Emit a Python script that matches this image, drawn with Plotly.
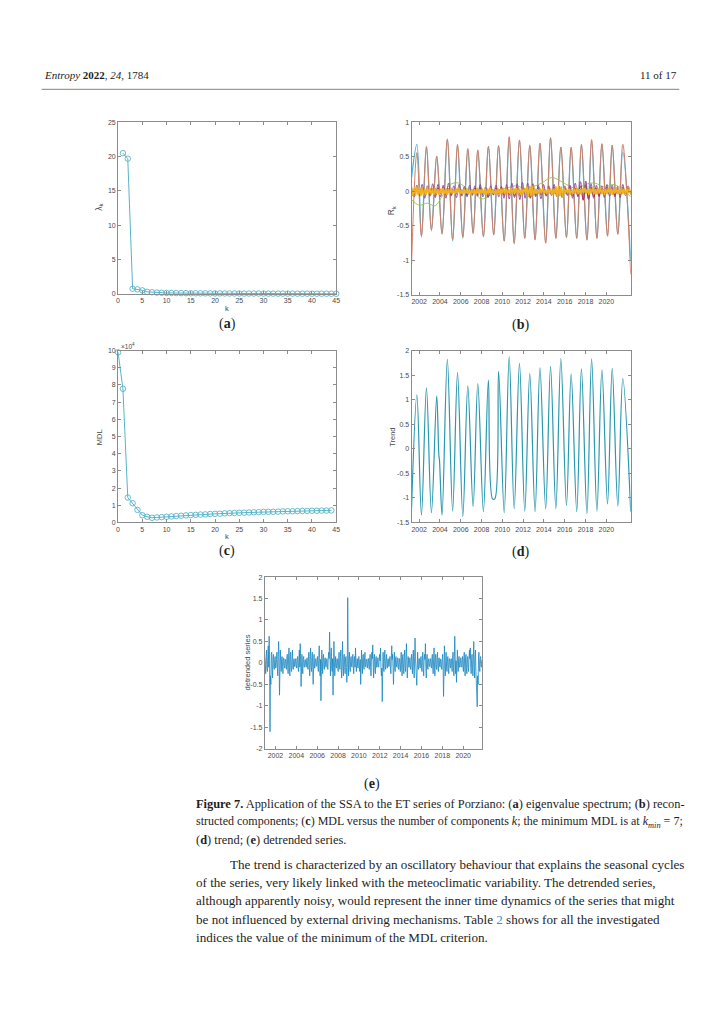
import numpy as np
import plotly.graph_objects as go

W, H = 725, 1024          # page size in the reference
OFF = 8                   # browser body margin compensation
FW, FH = W - 2 * OFF, H - 2 * OFF

# ---------------- data ----------------
# (a) eigenvalue spectrum
eig_vals = [20.5, 19.7, 0.77, 0.68, 0.53, 0.32, 0.26, 0.21, 0.18, 0.16,
            0.15, 0.14, 0.13, 0.12, 0.11, 0.11, 0.10, 0.10, 0.09, 0.09,
            0.09, 0.08, 0.08, 0.08, 0.08, 0.07, 0.07, 0.07, 0.07, 0.07,
            0.06, 0.06, 0.06, 0.06, 0.06, 0.06, 0.05, 0.05, 0.05, 0.05,
            0.05, 0.05, 0.05, 0.04, 0.04]
eig_k = list(range(1, len(eig_vals) + 1))

# (c) MDL versus k
mdl_vals = [99000, 77800, 14500, 11200, 7300, 4200, 3300, 2700, 2900, 3100,
            3300, 3500, 3700, 3900, 4100, 4300, 4400, 4600, 4700, 4900,
            5000, 5100, 5300, 5400, 5500, 5600, 5700, 5800, 5900, 6000,
            6100, 6200, 6200, 6300, 6400, 6500, 6500, 6600, 6700, 6700,
            6800, 6800, 6900, 6900, 7000]
mdl_k = list(range(0, len(mdl_vals)))

# (b) reconstructed components: seasonal extremes (decimal years)
rc_peak_years = [2001.78, 2002.70, 2003.69, 2004.71, 2005.69, 2006.68, 2007.64,
                 2008.66, 2009.64, 2010.66, 2011.65, 2012.64, 2013.62, 2014.64,
                 2015.63, 2016.62, 2017.61, 2018.59, 2019.58, 2020.57, 2021.59]
rc_trough_years = [2002.22, 2003.18, 2004.20, 2005.22, 2006.20, 2007.19, 2008.18,
                   2009.17, 2010.18, 2011.14, 2012.16, 2013.15, 2014.17, 2015.15,
                   2016.17, 2017.16, 2018.14, 2019.10, 2020.12, 2021.11]
rc_edge_years = [2001.27, 2022.35]
rc_orange_peaks = [0.56, 0.65, 0.51, 0.75, 0.68, 0.62, 0.60, 0.65, 0.66, 0.79, 0.74,
                   0.66, 0.70, 0.77, 0.64, 0.64, 0.68, 0.75, 0.69, 0.67, 0.68]
rc_orange_troughs = [-0.64, -0.55, -0.61, -0.70, -0.66, -0.61, -0.65, -0.63, -0.72, -0.75,
                     -0.68, -0.70, -0.75, -0.68, -0.67, -0.68, -0.70, -0.68, -0.65, -0.62]
rc_orange_edges = [-1.05, -1.20]
rc_cyan_peaks = [0.68, 0.63, 0.50, 0.76, 0.66, 0.60, 0.58, 0.65, 0.66, 0.77, 0.74,
                 0.67, 0.68, 0.78, 0.64, 0.62, 0.67, 0.73, 0.68, 0.66, 0.57]
rc_cyan_troughs = [-0.66, -0.57, -0.62, -0.72, -0.68, -0.60, -0.66, -0.63, -0.72, -0.76,
                   -0.68, -0.70, -0.74, -0.68, -0.66, -0.68, -0.71, -0.68, -0.64, -0.62]
rc_cyan_edges = [0.20, -1.00]

rc_purple = [0.05, -0.08, 0.09, -0.06, 0.10, -0.10, 0.08, -0.07, 0.11, -0.09, 0.10, -0.08,
             0.09, -0.10, 0.12, -0.06, 0.08, -0.09, 0.10, -0.07, 0.07, -0.08, 0.09, -0.06,
             0.08, -0.07, 0.10, -0.08, 0.06, -0.09, 0.08, -0.05, 0.09, -0.08, 0.07, -0.10,
             0.10, -0.11, 0.12, -0.09, 0.11, -0.12, 0.13, -0.10, 0.12, -0.10, 0.11, -0.08,
             0.09, -0.11, 0.10, -0.07, 0.08, -0.06, 0.10, -0.08, 0.07, -0.09, 0.08, -0.06,
             0.09, -0.10, 0.12, -0.08, 0.14, -0.13, 0.15, -0.12, 0.11, -0.10, 0.09, -0.08,
             0.08, -0.09, 0.10, -0.07, 0.09, -0.08, 0.07, -0.09, 0.10, -0.06, 0.08, -0.05]
rc_red = [0.03, -0.05, 0.04, -0.06, 0.05, -0.04, 0.03, -0.05, 0.04, -0.06, 0.05, -0.03,
          0.06, -0.05, 0.04, -0.06, 0.03, -0.04, 0.05, -0.05, 0.04, -0.06, 0.03, -0.04,
          0.05, -0.05, 0.06, -0.04, 0.03, -0.08, 0.04, -0.05, 0.05, -0.04, 0.06, -0.06,
          0.04, -0.05, 0.03, -0.07, 0.06, -0.06, 0.05, -0.04, 0.04, -0.09, 0.05, -0.05,
          0.06, -0.05, 0.04, -0.06, 0.05, -0.04, 0.06, -0.05, 0.04, -0.06, 0.05, -0.04,
          0.06, -0.07, 0.05, -0.06, 0.08, -0.12, 0.09, -0.10, 0.06, -0.08, 0.05, -0.06,
          0.04, -0.05, 0.06, -0.04, 0.05, -0.06, 0.04, -0.05, 0.06, -0.04, 0.05, -0.03]
rc_blue = [0.02, -0.03, 0.03, -0.02, 0.03, -0.04, 0.02, -0.03, 0.02, -0.03, 0.03, -0.02,
           0.03, -0.02, 0.02, -0.03, 0.02, -0.03, 0.04, -0.02, 0.05, -0.06, 0.05, -0.04,
           0.03, -0.04, 0.06, -0.05, 0.02, -0.03, 0.02, -0.04, 0.03, -0.02, 0.03, -0.03,
           0.02, -0.03, 0.02, -0.02, 0.03, -0.04, 0.03, -0.03, 0.06, -0.07, 0.05, -0.06,
           0.04, -0.03, 0.02, -0.03, 0.03, -0.02, 0.03, -0.04, 0.05, -0.05, 0.04, -0.03,
           0.02, -0.03, 0.03, -0.02, 0.03, -0.04, 0.05, -0.05, 0.04, -0.03, 0.02, -0.03,
           0.03, -0.02, 0.03, -0.04, 0.02, -0.03, 0.02, -0.03, 0.04, -0.03, 0.03, -0.02]
rc_yellow = [0.06, -0.07, 0.05, -0.06, 0.07, -0.05, 0.06, -0.07,
             0.05, -0.06, 0.04, -0.05, 0.06, -0.04, 0.05, -0.05,
             0.04, -0.05, 0.05, -0.04, 0.03, -0.05, 0.04, -0.04,
             0.05, -0.04, 0.04, -0.05, 0.03, -0.04, 0.05, -0.03,
             0.03, -0.04, 0.04, -0.03, 0.05, -0.04, 0.03, -0.04,
             0.04, -0.03, 0.03, -0.04, 0.04, -0.05, 0.03, -0.03,
             0.03, -0.04, 0.05, -0.04, 0.03, -0.03, 0.04, -0.05,
             0.04, -0.05, 0.04, -0.03, 0.05, -0.04, 0.03, -0.04,
             0.03, -0.04, 0.04, -0.05, 0.04, -0.03, 0.05, -0.04,
             0.04, -0.03, 0.03, -0.04, 0.05, -0.04, 0.04, -0.03,
             0.05, -0.04, 0.04, -0.05, 0.04, -0.04, 0.05, -0.04,
             0.07, -0.08, 0.08, -0.07, 0.08, -0.06, 0.04, -0.04,
             0.03, -0.04, 0.04, -0.03, 0.05, -0.04, 0.03, -0.04,
             0.04, -0.03, 0.04, -0.05, 0.04, -0.04, 0.07, -0.08,
             0.08, -0.07, 0.07, -0.08, 0.05, -0.04, 0.04, -0.03,
             0.04, -0.05, 0.03, -0.04, 0.04, -0.03, 0.05, -0.04,
             0.03, -0.04, 0.04, -0.03, 0.05, -0.04, 0.04, -0.05,
             0.04, -0.03, 0.05, -0.04, 0.03, -0.04, 0.04, -0.03,
             0.05, -0.04, 0.04, -0.05, 0.03, -0.04, 0.05, -0.04,
             0.04, -0.05, 0.04, -0.03, 0.05, -0.04, 0.03, -0.04,
             0.05, -0.04, 0.04, -0.05, 0.04, -0.03, 0.05, -0.04]
rc_green_years = [2001.27, 2002.0, 2002.8, 2003.5, 2004.3, 2005.0, 2005.8, 2006.6, 2007.4,
                  2008.0, 2008.8, 2009.6, 2010.5, 2011.3, 2012.2, 2013.0, 2013.8, 2014.7,
                  2015.6, 2016.4, 2017.2, 2018.0, 2018.9, 2019.8, 2020.6, 2021.4, 2022.35]
rc_green_vals = [-0.12, -0.20, -0.17, -0.21, -0.05, 0.10, 0.12, 0.04, -0.04,
                 -0.11, -0.06, 0.02, 0.05, 0.08, 0.04, 0.07, 0.12, 0.20,
                 0.15, 0.08, 0.04, 0.10, 0.12, 0.06, 0.10, 0.05, -0.08]

# (d) trend
trend_years = [2001.27, 2001.78, 2002.22, 2002.70, 2003.18, 2003.69, 2003.90, 2003.95,
               2004.20, 2004.71, 2005.22, 2005.69, 2006.20, 2006.68, 2007.19, 2007.64,
               2008.18, 2008.66, 2009.06, 2009.28, 2009.64, 2010.18, 2010.66, 2011.14,
               2011.65, 2012.16, 2012.64, 2013.15, 2013.62, 2014.17, 2014.64, 2015.15,
               2015.63, 2016.17, 2016.62, 2017.16, 2017.61, 2018.14, 2018.59, 2019.10,
               2019.58, 2020.12, 2020.57, 2021.11, 2021.59, 2022.35]
trend_vals = [-1.20, 1.10, -1.35, 1.24, -1.30, 1.08, -0.15, -0.22,
              -1.35, 1.82, -1.27, 1.55, -1.38, 1.28, -1.18, 1.33,
              -1.28, 1.40, -1.02, -1.02, 1.58, -1.30, 1.88, -1.22,
              1.74, -1.27, 1.53, -1.28, 1.65, -1.22, 1.68, -1.22,
              1.84, -1.15, 1.52, -1.28, 1.63, -1.32, 1.83, -1.27,
              1.61, -1.12, 1.64, -1.17, 1.43, -1.28]

# (e) detrended series (regular sampling, 24 values per year)
detrended = [
    0.12, -0.08, -0.25, 0.15, 0.30, -0.12, -0.20, 0.18, 0.40, -0.10, 0.62, 0.05,
    -1.60, -0.30, -0.50, 0.20, 0.25, -0.15, -0.35, 0.12, 0.20, -0.10, -0.15, 0.08,
    0.15, -0.12, -0.10, 0.08, 0.25, -0.10, -0.30, 0.15, 0.50, 0.10, -0.75, -0.20,
    0.30, -0.12, -0.20, 0.10, 0.15, -0.08, -0.25, 0.12, 0.10, -0.06, -0.12, 0.09,
    0.08, -0.10, -0.15, 0.12, 0.20, -0.08, -0.25, 0.14, 0.35, -0.12, -0.30, 0.18,
    0.25, -0.15, -0.20, 0.10, 0.30, -0.12, -0.15, 0.08, 0.10, -0.09, -0.08, 0.07,
    0.10, -0.07, -0.12, 0.09, 0.15, -0.10, -0.20, 0.12, 0.30, -0.10, 0.45, 0.05,
    -0.55, -0.15, 0.20, -0.12, -0.25, 0.10, 0.15, -0.08, -0.10, 0.07, 0.08, -0.06,
    -0.10, 0.08, 0.12, -0.09, -0.15, 0.10, 0.25, -0.12, -0.30, 0.15, 0.35, -0.10,
    -0.20, 0.12, 0.25, -0.15, -0.50, -0.10, 0.20, -0.12, -0.12, 0.08, 0.10, -0.07,
    -0.08, 0.10, 0.15, -0.10, -0.20, 0.12, 0.40, 0.10, -0.30, 0.08, -0.88, -0.20,
    0.30, -0.15, -0.25, 0.12, 0.20, -0.10, -0.15, 0.09, 0.12, -0.08, -0.10, 0.07,
    0.10, -0.08, -0.15, 0.12, 0.25, 0.10, 0.72, 0.15, -0.30, 0.12, 0.35, -0.15,
    -0.20, 0.10, -0.75, -0.10, 0.50, 0.12, -0.30, 0.10, 0.15, -0.09, -0.12, 0.08,
    0.10, -0.12, -0.20, 0.10, 0.25, -0.10, -0.15, 0.12, 0.30, -0.15, -0.35, 0.10,
    0.50, -0.12, -0.30, 0.15, 0.20, -0.10, -0.25, 0.12, 0.15, -0.10, -0.45, -0.10,
    1.52, 0.20, -0.30, 0.10, 0.25, -0.12, -0.20, 0.10, 0.15, -0.08, -0.10, 0.12,
    0.20, -0.10, -0.25, 0.12, 0.15, -0.10, 0.35, 0.05, -0.20, 0.10, 0.10, -0.08,
    -0.12, 0.10, 0.15, -0.10, -0.20, 0.08, -0.50, -0.15, 0.30, -0.10, -0.25, 0.12,
    0.20, -0.10, -0.15, 0.12, 0.25, -0.08, -0.10, 0.09, 0.08, -0.07, -0.12, 0.10,
    0.10, -0.08, -0.15, 0.12, 0.20, -0.10, -0.30, 0.12, 0.25, 0.10, 0.42, -0.08,
    -0.35, 0.10, 0.20, -0.12, -0.25, 0.10, 0.15, -0.10, -0.10, 0.08, 0.12, -0.09,
    -0.10, 0.12, 0.20, 0.05, 0.35, -0.10, -0.30, -0.12, -0.90, -0.20, 0.25, -0.10,
    -0.20, 0.12, 0.30, -0.10, -0.15, 0.10, 0.20, -0.08, -0.12, 0.09, 0.10, -0.08,
    -0.08, 0.10, 0.15, -0.12, -0.25, 0.10, 0.40, 0.08, 0.20, -0.10, -0.50, -0.12,
    0.25, -0.10, -0.20, 0.12, 0.15, -0.09, -0.10, 0.08, 0.12, -0.10, -0.15, 0.10,
    0.10, -0.12, -0.20, 0.10, 0.25, -0.12, -0.30, 0.15, 0.20, -0.10, -0.25, 0.12,
    0.30, -0.10, -0.20, 0.12, 0.45, 0.05, -0.35, -0.10, 0.15, -0.09, -0.10, 0.08,
    0.12, -0.10, -0.15, 0.12, 0.20, -0.10, -0.25, 0.14, 0.30, -0.12, -0.35, 0.15,
    0.58, 0.10, -0.30, -0.05, -0.52, -0.10, 0.25, -0.12, -0.15, 0.10, 0.10, -0.08,
    -0.12, 0.10, 0.15, -0.10, -0.20, 0.12, 0.25, -0.12, -0.30, 0.10, 0.20, 0.08,
    0.45, -0.10, -0.35, 0.10, 0.20, -0.12, -0.15, 0.09, 0.10, -0.08, -0.08, 0.07,
    0.10, -0.09, -0.12, 0.10, 0.20, -0.12, -0.25, 0.10, 0.35, -0.10, -0.30, 0.12,
    0.20, -0.10, -0.15, 0.12, 0.25, -0.10, -0.20, 0.10, 0.12, -0.08, -0.10, 0.09,
    0.08, -0.10, -0.15, 0.10, 0.20, -0.12, -0.78, -0.20, 0.40, 0.05, -0.30, 0.10,
    0.25, -0.12, -0.20, 0.10, 0.15, -0.12, -0.25, 0.10, 0.10, -0.08, -0.12, 0.09,
    0.10, -0.10, -0.20, 0.12, 0.25, -0.10, -0.30, 0.15, 0.62, 0.10, -0.25, 0.05,
    -0.45, -0.10, 0.30, -0.12, -0.20, 0.10, 0.15, -0.10, -0.10, 0.08, 0.12, -0.09,
    -0.10, 0.08, 0.15, -0.10, -0.20, 0.12, 0.25, -0.10, -0.30, 0.12, 0.20, -0.12,
    -0.25, 0.10, 0.15, -0.10, -0.20, 0.12, 0.30, 0.10, 0.35, -0.10, -0.25, 0.10,
    0.20, -0.10, -0.30, 0.12, 0.50, -0.10, -0.35, 0.15, 0.30, -0.20, -0.82, -0.40,
    -1.02, -0.30, -0.50, 0.10, 0.25, -0.12, -0.20, 0.10, 0.15, -0.08, -0.10, 0.07]

year_ticks = [2002, 2004, 2006, 2008, 2010, 2012, 2014, 2016, 2018, 2020]
bd_range = [2001.27, 2022.35]
e_range = [2000.98, 2021.80]


# ---------------- helpers ----------------
def interleave(edge_years, edges, p_years, peaks, t_years, troughs):
    xs, ys = [edge_years[0]], [edges[0]]
    for i in range(len(p_years)):
        xs.append(p_years[i]); ys.append(peaks[i])
        if i < len(t_years):
            xs.append(t_years[i]); ys.append(troughs[i])
    xs.append(edge_years[1]); ys.append(edges[1])
    return xs, ys


def grid(rng, n):
    return np.linspace(rng[0], rng[1], n)


def dx(l, r):
    return [(l - OFF) / FW, (r - OFF) / FW]


def dy(t, b):
    return [1 - (b - OFF) / FH, 1 - (t - OFF) / FH]


def fmt(v):
    return "%g" % v


AX = dict(showline=True, linecolor="#8c8c8c", linewidth=1, mirror="ticks",
          ticks="inside", ticklen=3, tickwidth=0.8, tickcolor="#8c8c8c",
          showgrid=False, zeroline=False,
          tickfont=dict(family="Liberation Sans, Arial", size=7, color="#4a4a4a"))

fig = go.Figure()

TEAL = "#58b4c8"
# (a)
fig.add_trace(go.Scatter(x=eig_k, y=eig_vals, mode="lines+markers", xaxis="x", yaxis="y",
                         line=dict(color=TEAL, width=1),
                         marker=dict(symbol="circle-open", size=5.5, color=TEAL, line=dict(width=0.9)),
                         cliponaxis=False, showlegend=False))
# (c)
fig.add_trace(go.Scatter(x=mdl_k, y=mdl_vals, mode="lines+markers", xaxis="x3", yaxis="y3",
                         line=dict(color=TEAL, width=1),
                         marker=dict(symbol="circle-open", size=5.5, color=TEAL, line=dict(width=0.9)),
                         cliponaxis=False, showlegend=False))

# (b)
cx, cy = interleave(rc_edge_years, rc_cyan_edges, rc_peak_years, rc_cyan_peaks,
                    rc_trough_years, rc_cyan_troughs)
ox, oy = interleave(rc_edge_years, rc_orange_edges, rc_peak_years, rc_orange_peaks,
                    rc_trough_years, rc_orange_troughs)
fig.add_trace(go.Scatter(x=cx, y=cy, mode="lines", xaxis="x2", yaxis="y2",
                         line=dict(color="#4db3d9", width=1.3, shape="spline"), showlegend=False))
fig.add_trace(go.Scatter(x=ox, y=oy, mode="lines", xaxis="x2", yaxis="y2",
                         line=dict(color="#d08068", width=1, shape="spline"), showlegend=False))
fig.add_trace(go.Scatter(x=rc_green_years, y=rc_green_vals, mode="lines", xaxis="x2", yaxis="y2",
                         line=dict(color="#9cbf4a", width=0.9, shape="spline"), showlegend=False))
fig.add_trace(go.Scatter(x=grid(bd_range, len(rc_purple)), y=rc_purple, mode="lines",
                         xaxis="x2", yaxis="y2",
                         line=dict(color="#8e44a0", width=0.9, shape="spline"), showlegend=False))
fig.add_trace(go.Scatter(x=grid(bd_range, len(rc_red)), y=rc_red, mode="lines",
                         xaxis="x2", yaxis="y2",
                         line=dict(color="#b0283f", width=0.9, shape="spline"), showlegend=False))
fig.add_trace(go.Scatter(x=grid(bd_range, len(rc_blue)), y=rc_blue, mode="lines",
                         xaxis="x2", yaxis="y2",
                         line=dict(color="#1f6fb0", width=1, shape="spline"), showlegend=False))
fig.add_trace(go.Scatter(x=grid(bd_range, len(rc_yellow)), y=rc_yellow, mode="lines",
                         xaxis="x2", yaxis="y2",
                         line=dict(color="#f0b020", width=1.6), showlegend=False))

# (d)
fig.add_trace(go.Scatter(x=trend_years, y=trend_vals, mode="lines", xaxis="x4", yaxis="y4",
                         line=dict(color="#2a98ae", width=1.2, shape="spline"), showlegend=False))

# (e)
fig.add_trace(go.Scatter(x=grid(e_range, len(detrended)), y=detrended, mode="lines",
                         xaxis="x5", yaxis="y5",
                         line=dict(color="#1a86c0", width=0.8), showlegend=False))

yt_b = [-1.5, -1, -0.5, 0, 0.5, 1]
yt_d = [-1.5, -1, -0.5, 0, 0.5, 1, 1.5, 2]
yt_e = [-2, -1.5, -1, -0.5, 0, 0.5, 1, 1.5, 2]

fig.update_layout(
    width=FW, height=FH, margin=dict(l=0, r=0, t=0, b=0),
    paper_bgcolor="white", plot_bgcolor="white", showlegend=False,
    xaxis=dict(domain=dx(117, 337), anchor="y", range=[0, 45],
               tickvals=list(range(0, 46, 5)), **AX),
    yaxis=dict(domain=dy(119, 292), anchor="x", range=[0, 25],
               tickvals=list(range(0, 26, 5)), **AX),
    xaxis2=dict(domain=dx(413, 634), anchor="y2", range=bd_range,
                tickvals=year_ticks, ticktext=[str(v) for v in year_ticks], **AX),
    yaxis2=dict(domain=dy(119, 293), anchor="x2", range=[-1.5, 1],
                tickvals=yt_b, ticktext=[fmt(v) for v in yt_b], **AX),
    xaxis3=dict(domain=dx(117, 337), anchor="y3", range=[0, 45],
                tickvals=list(range(0, 46, 5)), **AX),
    yaxis3=dict(domain=dy(349, 522), anchor="x3", range=[0, 100000],
                tickvals=list(range(0, 100001, 10000)),
                ticktext=[str(v) for v in range(0, 11)], **AX),
    xaxis4=dict(domain=dx(413, 634), anchor="y4", range=bd_range,
                tickvals=year_ticks, ticktext=[str(v) for v in year_ticks], **AX),
    yaxis4=dict(domain=dy(349, 522), anchor="x4", range=[-1.5, 2],
                tickvals=yt_d, ticktext=[fmt(v) for v in yt_d], **AX),
    xaxis5=dict(domain=dx(265, 484), anchor="y5", range=e_range,
                tickvals=year_ticks, ticktext=[str(v) for v in year_ticks], **AX),
    yaxis5=dict(domain=dy(577, 750), anchor="x5", range=[-2, 2],
                tickvals=yt_e, ticktext=[fmt(v) for v in yt_e], **AX),
)


def ann(text, x, y, size, xanchor="left", yanchor="middle",
        family="Liberation Serif", color="#1e1e1e", angle=0):
    return dict(text=text, x=(x - OFF) / FW, y=1 - (y - OFF) / FH, xref="paper", yref="paper",
                showarrow=False, xanchor=xanchor, yanchor=yanchor, textangle=angle,
                font=dict(family=family, size=size, color=color))


SANS = "Liberation Sans, Arial"
GRAY = "#4a4a4a"
anns = [
    # header
    ann("<i>Entropy</i> <b>2022</b>, <i>24</i>, 1784", 40, 71, 11),
    ann("11 of 17", 683, 71, 11, xanchor="right"),
    # axis titles
    ann("λ<sub>k</sub>", 98, 205, 8.5, xanchor="center", family=SANS, color=GRAY, angle=-90),
    ann("k", 227, 307, 7.5, xanchor="center", family=SANS, color=GRAY),
    ann("R<sub>k</sub>", 393, 208, 8.5, xanchor="center", family=SANS, color=GRAY, angle=-90),
    ann("MDL", 98, 436, 7.5, xanchor="center", family=SANS, color=GRAY, angle=-90),
    ann("k", 227, 536, 7.5, xanchor="center", family=SANS, color=GRAY),
    ann("×10<sup>4</sup>", 118, 344, 6.5, family=SANS, color=GRAY),
    ann("Trend", 393, 436, 7.5, xanchor="center", family=SANS, color=GRAY, angle=-90),
    ann("detrended series", 247, 663, 7.5, xanchor="center", family=SANS, color=GRAY, angle=-90),
    # panel labels
    ann("(<b>a</b>)", 227, 322, 14, xanchor="center"),
    ann("(<b>b</b>)", 523, 323, 14, xanchor="center"),
    ann("(<b>c</b>)", 227, 551, 14, xanchor="center"),
    ann("(<b>d</b>)", 523, 552, 14, xanchor="center"),
    ann("(<b>e</b>)", 373, 785, 14, xanchor="center"),
    # caption
    ann("<b>Figure 7.</b> Application of the SSA to the ET series of Porziano: (<b>a</b>) eigenvalue spectrum; (<b>b</b>) recon-", 194, 806, 12.4),
    ann("structed components; (<b>c</b>) MDL versus the number of components <i>k</i>; the minimum MDL is at <i>k<sub>min</sub></i> = 7;", 194, 824, 12.0),
    ann("(<b>d</b>) trend; (<b>e</b>) detrended series.", 194, 842, 12.4),
    # paragraph
    ann("The trend is characterized by an oscillatory behaviour that explains the seasonal cycles", 228, 866, 13.1),
    ann("of the series, very likely linked with the meteoclimatic variability. The detrended series,", 194, 885, 13.1),
    ann("although apparently noisy, would represent the inner time dynamics of the series that might", 194, 903, 13.1),
    ann("be not influenced by external driving mechanisms. Table <span style='color:#3d8fcf'>2</span> shows for all the investigated", 194, 922, 13.1),
    ann("indices the value of the minimum of the MDL criterion.", 194, 940, 13.1),
]
fig.update_layout(annotations=anns)

fig.add_shape(type="line", xref="paper", yref="paper",
              x0=(40 - OFF) / FW, x1=(683 - OFF) / FW,
              y0=1 - (86 - OFF) / FH, y1=1 - (86 - OFF) / FH,
              line=dict(color="#9a9a9a", width=1.3))

fig.write_html("out.html")
